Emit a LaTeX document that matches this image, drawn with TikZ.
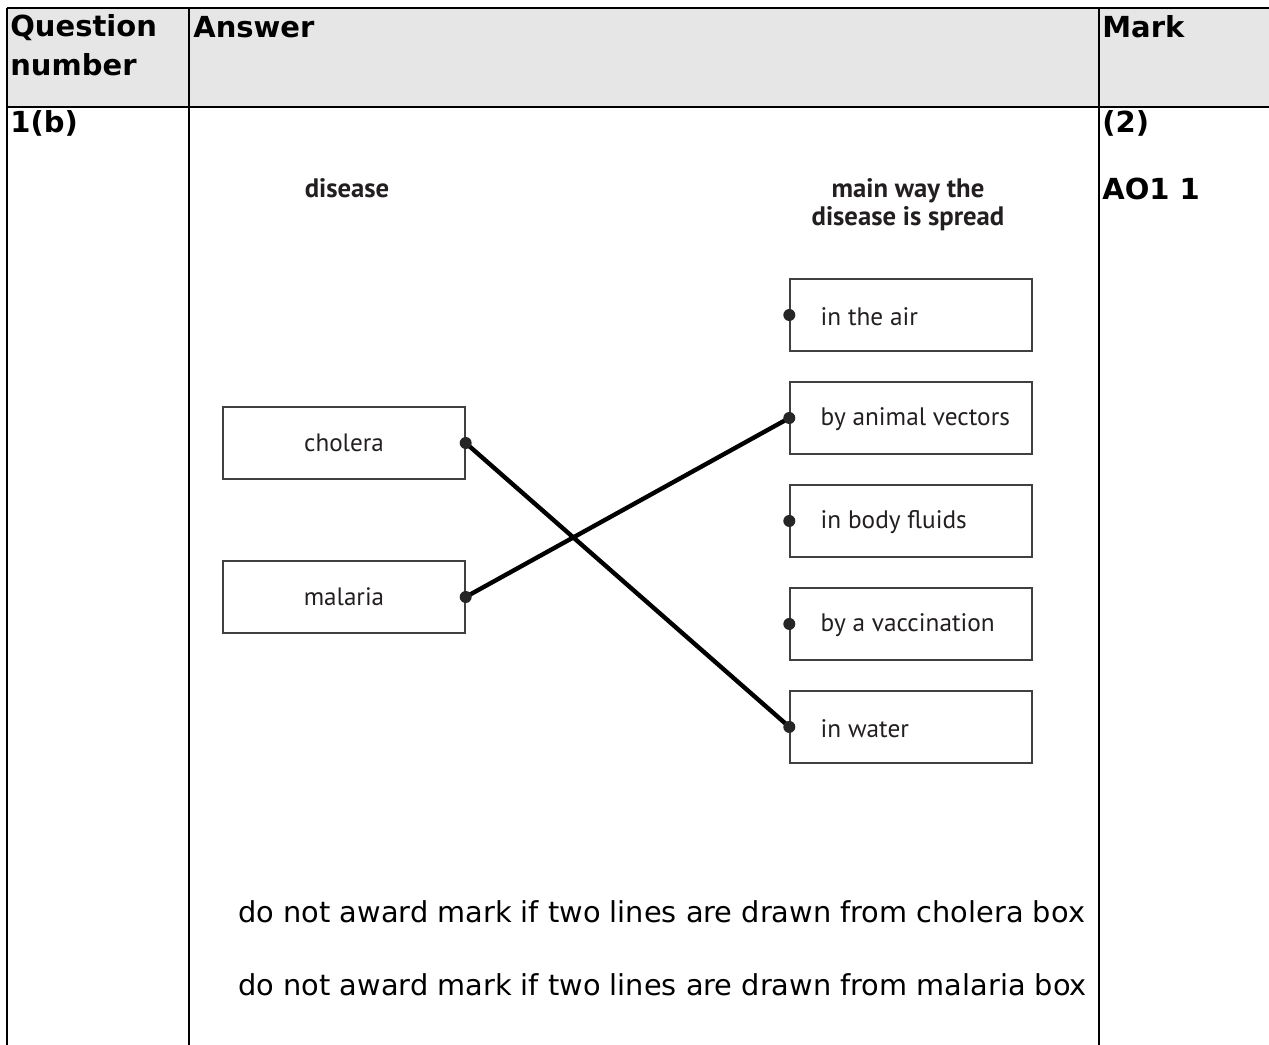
\documentclass[tikz,border=0pt]{standalone}
\usepackage{fontspec}
\setmainfont{DejaVu Sans}
\newfontfamily\figfont{PT Sans}
\usepackage{tikz}
\usetikzlibrary{positioning}
\definecolor{hdrgray}{HTML}{E6E6E6}
\definecolor{figink}{HTML}{231F20}
\tikzstyle{grid} = [line width=1.6pt, black]
\tikzstyle{cell} = [anchor=base west, inner sep=0pt, align=left, font=\bfseries\fontsize{16.5}{22}\selectfont]
\tikzstyle{note} = [anchor=base west, inner sep=0pt, font=\fontsize{16.4}{20}\selectfont]
\tikzstyle{heading} = [inner sep=0pt, align=center, text=figink, font=\figfont\bfseries\fontsize{15.2}{15.5}\selectfont]
\tikzstyle{disease} = [draw=black!75, line width=0.8pt, rectangle, minimum width=4.84cm, minimum height=1.44cm, text=figink, font=\figfont\fontsize{14.3}{16}\selectfont]
\tikzstyle{route} = [draw=black!75, line width=0.8pt, rectangle, minimum width=4.84cm, minimum height=1.44cm, inner sep=0pt]
\tikzstyle{routetext} = [anchor=west, inner sep=0pt, xshift=0.62cm, yshift=-0.03cm, text=figink, font=\figfont\fontsize{14.4}{16}\selectfont]
\tikzstyle{dot} = [fill=black!85, circle, inner sep=0pt, minimum size=0.24cm]
\tikzstyle{link} = [line width=2.5pt, black]

\begin{document}
\begin{tikzpicture}[x=0.02cm, y=-0.02cm, node distance=2cm]
\useasboundingbox (0,0) rectangle (1269,1045);
% Table
	\fill[hdrgray] (7,8) rectangle (1269,107);
	\draw[grid] (7,8) -- (1269,8);
	\draw[grid] (7,107) -- (1269,107);
	\draw[grid] (7,8) -- (7,1045);
	\draw[grid] (189,8) -- (189,1045);
	\draw[grid] (1099,8) -- (1099,1045);
	\node[cell] (qnum) at (10,75) {Question\\number};
	\node[cell] (answer) at (193,37) {Answer};
	\node[cell] (mark) at (1102,37) {Mark};
	\node[cell] (part) at (10,132) {1(b)};
	\node[cell] (marks) at (1102,132) {(2)};
	\node[cell] (ao) at (1102,199) {AO1 1};
% Headings
	\node[heading, anchor=base] (hleft) at (347,197) {disease};
	\node[heading, anchor=base] (hright) at (908,225) {main way the\\disease is spread};
% Boxes
	\node[disease] (cholera) at (344,443) {cholera};
	\node[disease, below of=cholera, node distance=3.08cm] (malaria) {malaria};
	\node[route, label={[routetext]west:in the air}] (air) at (911,315) {};
	\node[route, below of=air, node distance=2.06cm, label={[routetext]west:by animal vectors}] (vectors) {};
	\node[route, below of=vectors, node distance=2.06cm, label={[routetext]west:in body fluids}] (fluids) {};
	\node[route, below of=fluids, node distance=2.06cm, label={[routetext]west:by a vaccination}] (vaccine) {};
	\node[route, below of=vaccine, node distance=2.06cm, label={[routetext]west:in water}] (water) {};
% Connections
	\draw[link] (cholera.east) -- (water.west);
	\draw[link] (malaria.east) -- (vectors.west);
	\foreach \b in {cholera,malaria} \node[dot] at (\b.east) {};
	\foreach \b in {air,vectors,fluids,vaccine,water} \node[dot] at (\b.west) {};
% Notes
	\node[note] (note1) at (238,922) {do not award mark if two lines are drawn from cholera box};
	\node[note] (note2) at (238,995) {do not award mark if two lines are drawn from malaria box};
\end{tikzpicture}
\end{document}
